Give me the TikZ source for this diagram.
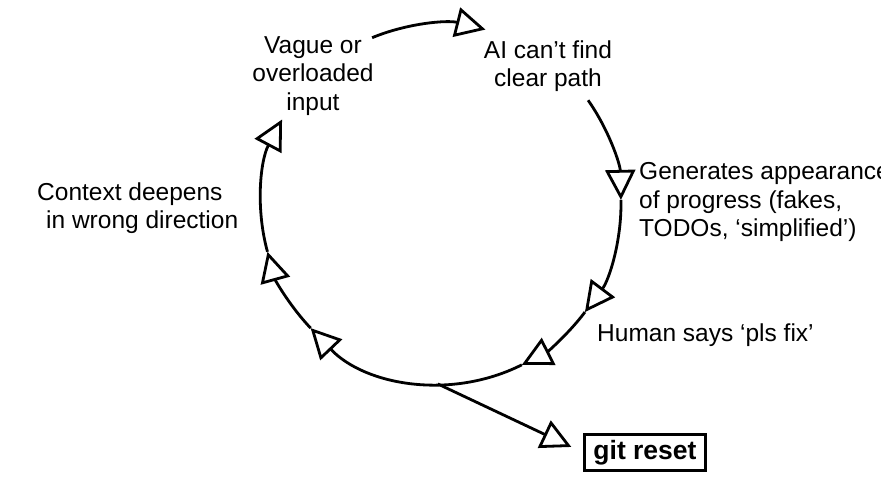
\documentclass[tikz,border=0pt]{standalone}
\usepackage{fontspec}
\setmainfont{Liberation Sans}
\usetikzlibrary{arrows.meta}
\begin{document}
\begin{tikzpicture}[x=1pt,y=1pt,
  flow/.style={line width=2.8pt, -{Triangle[open,length=30pt,width=30pt]}},
  lbl/.style={font=\fontsize{24.5}{28.5}\selectfont, inner sep=0pt},
  resetbox/.style={draw, line width=2.8pt, inner sep=0pt,
    minimum width=121pt, minimum height=36pt,
    font=\bfseries\fontsize{26.5}{30}\selectfont},
]
% canvas
\clip (0,0) rectangle (881,-479);
\fill[white] (0,0) rectangle (881,-479);

% points on the loop (centre of the cycle, radius 180)
\begin{scope}[shift={(441,-204)}]
  \coordinate (c)  at (0,0);
  \coordinate (s1) at (112.5:180);
  \coordinate (t1) at (75.7:180);
  \coordinate (s2) at (35.2:180);
  \coordinate (t2) at (1.3:180);
  \coordinate (t3) at (-36.9:180);
  \coordinate (t4) at (-63.3:180);
  \coordinate (bot) at (-91:180);
  \coordinate (t5) at (-136.4:180);
  \coordinate (t6) at (-164.6:180);
  \coordinate (t7) at (-208:180);
\end{scope}

% labels
\node[lbl, align=center] (vague) at (313,-76) {Vague or\\overloaded\\input};
\node[lbl, align=center] (aicant) at (548,-66) {AI can’t find\\clear path};
\node[lbl, align=left, anchor=west] (gen) at (639,-202)
  {Generates appearance\\of progress (fakes,\\TODOs, ‘simplified’)};
\node[lbl, anchor=west] (human) at (597,-335) {Human says ‘pls fix’};
\node[lbl, align=left, anchor=west] (ctx) at (37,-208)
  {Context deepens\\\hspace*{9pt}in wrong direction};
\node[resetbox] (reset) at (645,-452.5) {git reset};

% the cycle
\draw[flow] (s1) arc[start angle=112.5, end angle=75.7, radius=180];
\draw[flow] (s2) arc[start angle=35.2, end angle=1.3, radius=180];
\draw[flow] (t2) arc[start angle=1.3, end angle=-36.9, radius=180];
\draw[flow] (t3) arc[start angle=-36.9, end angle=-63.3, radius=180];
\draw[flow] (t4) arc[start angle=-63.3, end angle=-136.4, radius=180];
\draw[flow] (t5) arc[start angle=-136.4, end angle=-164.6, radius=180];
\draw[flow] (t6) arc[start angle=-164.6, end angle=-208, radius=180];

% way out of the loop
\draw[flow, shorten >=13pt] (bot) -- (reset.west);
\end{tikzpicture}
\end{document}
